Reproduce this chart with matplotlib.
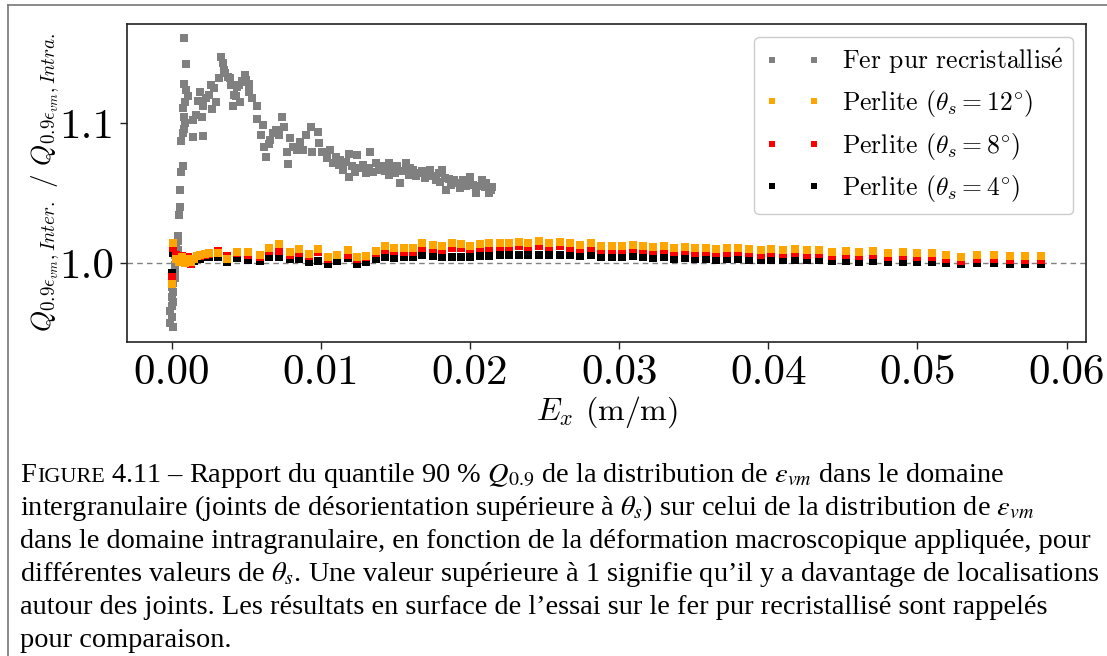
import matplotlib
matplotlib.use("Agg")
import matplotlib.pyplot as plt
from matplotlib.lines import Line2D

# ---------------- data ----------------
fer_x = [0.0001, -0.0001, 0.0000, -0.0001, 0.0000, 0.0001, 0.0000, 0.0001, 0.0000, 0.0001,
         0.0002, 0.0001, 0.0002, 0.0002, 0.0003, 0.0002, 0.0004, 0.0003, 0.0004, 0.0004,
         0.0005, 0.00058, 0.00054, 0.0006, 0.00076, 0.00065, 0.00076, 0.0008,
         0.00082, 0.00094, 0.00082, 0.00098, 0.0011, 0.00087, 0.00076, 0.0008, 0.0009,
         0.0014, 0.0016, 0.0019, 0.00176, 0.0021, 0.0023, 0.0020, 0.0014, 0.0021, 0.00266,
         0.0028, 0.0030, 0.0025, 0.0027, 0.00333, 0.00344, 0.0036, 0.0032, 0.0039, 0.0040,
         0.0042, 0.0041, 0.0044, 0.0049, 0.0048, 0.0052, 0.0046, 0.0052, 0.0054, 0.0057,
         0.0047, 0.0050, 0.0045, 0.0038, 0.0035, 0.0043,
         0.0057, 0.0061, 0.0060, 0.0066, 0.0062, 0.0063, 0.0074, 0.0075, 0.0070, 0.0072,
         0.0079, 0.0077, 0.0078, 0.0084, 0.0068, 0.0065, 0.0081, 0.0086,
         0.00936, 0.0098, 0.0090, 0.0088, 0.0094, 0.0099, 0.0101, 0.0106, 0.0104, 0.0108,
         0.0113, 0.0119, 0.0124, 0.0133, 0.0115, 0.0119, 0.0126, 0.0130, 0.0137, 0.0139,
         0.0146, 0.0146, 0.0153, 0.0157, 0.0162, 0.0166, 0.0173, 0.0181, 0.0177, 0.0184,
         0.0189, 0.0193, 0.0200, 0.0204, 0.0208, 0.0213, 0.0215,
         0.0110, 0.0112, 0.0117, 0.0121, 0.0123, 0.0128, 0.0132, 0.0135, 0.0141, 0.0143,
         0.0148, 0.0150, 0.0151, 0.0155, 0.0159, 0.0160, 0.0164, 0.0168, 0.0170, 0.0171,
         0.0175, 0.0179, 0.0180, 0.0183, 0.0186, 0.0187, 0.0191, 0.0195, 0.0197, 0.0199,
         0.0202, 0.0206, 0.0210, 0.0211, 0.0214]
fer_y = [0.9545, 0.9575, 0.9615, 0.9655, 0.9690, 0.9725, 0.9760, 0.9795, 0.9830, 0.9860,
         0.9890, 0.9920, 0.9950, 0.9985, 1.0020, 1.0055, 1.0090, 1.0125, 1.0160, 1.0195,
         1.0340, 1.0400, 1.0520, 1.0650, 1.0690, 1.0870, 1.0930, 1.0960,
         1.1605, 1.1420, 1.1280, 1.1236, 1.1190, 1.1150, 1.1110, 1.1040, 1.1000,
         1.1020, 1.1060, 1.1220, 1.1160, 1.1120, 1.1180, 1.1040, 1.0900, 1.0910, 1.1270,
         1.1250, 1.1150, 1.1200, 1.1100, 1.1470, 1.1426, 1.1360, 1.1320, 1.1320, 1.1270,
         1.1200, 1.1120, 1.1260, 1.1340, 1.1295, 1.1280, 1.1150, 1.1220, 1.1180, 1.1120,
         1.1300, 1.1310, 1.1270, 1.1330, 1.1380, 1.1190,
         1.1030, 1.0986, 1.0914, 1.0880, 1.0830, 1.0760, 1.1045, 1.0970, 1.0950, 1.0914,
         1.0890, 1.0795, 1.0710, 1.0807, 1.0930, 1.0850, 1.0830, 1.0867,
         1.0974, 1.0938, 1.0914, 1.0807, 1.0795, 1.0855, 1.0795, 1.0807, 1.0748, 1.0712,
         1.0736, 1.0780, 1.0770, 1.0795, 1.0664, 1.0617, 1.0676, 1.0640, 1.0712, 1.0664,
         1.0712, 1.0628, 1.0570, 1.0712, 1.0664, 1.0640, 1.0664, 1.0664, 1.0593, 1.0520,
         1.0593, 1.0533, 1.0617, 1.0498, 1.0593, 1.0498, 1.0545,
         1.0760, 1.0700, 1.0720, 1.0690, 1.0650, 1.0700, 1.0680, 1.0650, 1.0690, 1.0660,
         1.0680, 1.0640, 1.0690, 1.0660, 1.0630, 1.0680, 1.0620, 1.0660, 1.0610, 1.0640,
         1.0620, 1.0640, 1.0580, 1.0610, 1.0600, 1.0560, 1.0570, 1.0590, 1.0550, 1.0580,
         1.0560, 1.0550, 1.0540, 1.0570, 1.0520]

perl_x = [0.0000, 0.0001, 0.0003, 0.0005, 0.0007, 0.0009, 0.0011, 0.0013, 0.0015, 0.0017,
          0.0019, 0.0022, 0.0025, 0.0031, 0.0037, 0.0044, 0.0051, 0.0059, 0.0065, 0.0072,
          0.0079, 0.0085, 0.0092, 0.0098, 0.0105, 0.0111, 0.0118, 0.0124, 0.0130, 0.0137,
          0.0143, 0.0149, 0.0156, 0.0162, 0.0168, 0.0175, 0.0181, 0.0188, 0.0194, 0.0200,
          0.0207, 0.0213, 0.0220, 0.0226, 0.0233, 0.0239, 0.0246, 0.0253, 0.0260, 0.0267,
          0.0274, 0.0281, 0.0288, 0.0295, 0.0302, 0.0309, 0.0316, 0.0323, 0.0330, 0.0337,
          0.0344, 0.0351, 0.0358, 0.0365, 0.0372, 0.0380, 0.0387, 0.0395, 0.0402, 0.0410,
          0.0418, 0.0426, 0.0434, 0.0443, 0.0452, 0.0461, 0.0470, 0.0480, 0.0490, 0.0500,
          0.0510, 0.0519, 0.0529, 0.0540, 0.0551, 0.0562, 0.0572, 0.0583]
perl12_y = [0.9848, 1.0145, 1.0030, 1.0005, 1.0040, 1.0000, 1.0030, 1.0010, 1.0030, 1.0050,
            1.0055, 1.0065, 1.0070, 1.0069, 1.0026, 1.0081, 1.0081, 1.0057, 1.0105, 1.0136,
            1.0081, 1.0098, 1.0064, 1.0098, 1.0045, 1.0060, 1.0090, 1.0045, 1.0050, 1.0085,
            1.0120, 1.0110, 1.0105, 1.0105, 1.0145, 1.0130, 1.0125, 1.0140, 1.0135, 1.0125,
            1.0135, 1.0140, 1.0140, 1.0145, 1.0150, 1.0140, 1.0155, 1.0145, 1.0150, 1.0140,
            1.0130, 1.0140, 1.0125, 1.0120, 1.0125, 1.0130, 1.0120, 1.0115, 1.0125, 1.0110,
            1.0115, 1.0105, 1.0110, 1.0100, 1.0105, 1.0110, 1.0100, 1.0090, 1.0100, 1.0095,
            1.0100, 1.0090, 1.0095, 1.0080, 1.0085, 1.0080, 1.0085, 1.0075, 1.0080, 1.0075,
            1.0070, 1.0060, 1.0040, 1.0055, 1.0060, 1.0050, 1.0050, 1.0050]
perl8_y = [0.9898, 1.0105, 1.0060, 1.0020, 1.0050, 1.0010, 1.0040, 0.9990, 1.0030, 1.0050,
           1.0050, 1.0060, 1.0065, 1.0087, 1.0050, 1.0069, 1.0060, 1.0045, 1.0085, 1.0088,
           1.0060, 1.0075, 1.0050, 1.0080, 1.0030, 1.0055, 1.0060, 1.0030, 1.0040, 1.0070,
           1.0095, 1.0085, 1.0080, 1.0080, 1.0110, 1.0100, 1.0095, 1.0110, 1.0105, 1.0100,
           1.0110, 1.0110, 1.0115, 1.0115, 1.0120, 1.0115, 1.0120, 1.0115, 1.0120, 1.0110,
           1.0100, 1.0110, 1.0095, 1.0090, 1.0095, 1.0100, 1.0090, 1.0085, 1.0095, 1.0080,
           1.0085, 1.0075, 1.0080, 1.0070, 1.0075, 1.0080, 1.0070, 1.0060, 1.0070, 1.0065,
           1.0070, 1.0060, 1.0065, 1.0050, 1.0055, 1.0050, 1.0055, 1.0045, 1.0050, 1.0045,
           1.0040, 1.0030, 1.0015, 1.0030, 1.0030, 1.0025, 1.0025, 1.0025]
perl4_y = [0.9926, 1.0069, 1.0050, 1.0010, 1.0030, 1.0000, 1.0010, 1.0000, 1.0015, 1.0030,
           1.0030, 1.0040, 1.0045, 1.0040, 1.0010, 1.0038, 1.0021, 1.0014, 1.0045, 1.0045,
           1.0026, 1.0026, 1.0010, 1.0017, 0.9990, 1.0017, 1.0033, 0.9995, 1.0005, 1.0026,
           1.0045, 1.0035, 1.0040, 1.0040, 1.0057, 1.0050, 1.0045, 1.0045, 1.0040, 1.0040,
           1.0050, 1.0050, 1.0060, 1.0060, 1.0055, 1.0060, 1.0060, 1.0055, 1.0060, 1.0055,
           1.0050, 1.0055, 1.0045, 1.0040, 1.0045, 1.0050, 1.0040, 1.0035, 1.0045, 1.0030,
           1.0035, 1.0030, 1.0030, 1.0025, 1.0030, 1.0030, 1.0025, 1.0020, 1.0025, 1.0020,
           1.0025, 1.0020, 1.0020, 1.0015, 1.0015, 1.0010, 1.0015, 1.0010, 1.0010, 1.0010,
           1.0005, 1.0000, 0.9995, 1.0000, 1.0000, 0.9995, 0.9995, 0.9990]

labels = [r"Fer pur recristallis$\mathrm{\acute{e}}$", r"Perlite ($\theta_s = 12^{\circ}$)",
          r"Perlite ($\theta_s = 8^{\circ}$)", r"Perlite ($\theta_s = 4^{\circ}$)"]
colors = ["#808080", "#FFA500", "#FF0000", "#000000"]
xticks = [0.00, 0.01, 0.02, 0.03, 0.04, 0.05, 0.06]
yticks = [1.0, 1.1]

caption_lines = [
    "intergranulaire (joints de désorientation supérieure à $\\theta_s$) sur celui de la distribution de $\\varepsilon_{vm}$",
    "dans le domaine intragranulaire, en fonction de la déformation macroscopique appliquée, pour",
    "différentes valeurs de $\\theta_s$. Une valeur supérieure à 1 signifie qu\u2019il y a davantage de localisations",
    "autour des joints. Les résultats en surface de l\u2019essai sur le fer pur recristallisé sont rappelés",
    "pour comparaison.",
]
caption_first = ["F", "IGURE", "4.11 \u2013 Rapport du quantile 90 % $Q_{0.9}$ de la distribution de $\\varepsilon_{vm}$ dans le domaine"]

# ---------------- style ----------------
plt.rcParams["font.family"] = ["cmr10", "DejaVu Serif"]
plt.rcParams["mathtext.fontset"] = "cm"
plt.rcParams["axes.formatter.use_mathtext"] = True

W, H = 1107, 656
fig = plt.figure(figsize=(W / 100, H / 100), dpi=100)
ax = fig.add_axes([127 / W, 1 - 342 / H, (1086 - 127) / W, (342 - 24) / H])

ax.axhline(1.0, color="#808080", lw=1.0, ls=(0, (4, 3)), zorder=1)
ms = 5.8
h_fer, = ax.plot(fer_x, fer_y, "s", color=colors[0], ms=ms, mew=0, ls="none", zorder=2)
h4, = ax.plot(perl_x, perl4_y, "s", color=colors[3], ms=ms, mew=0, ls="none", zorder=3)
h8, = ax.plot(perl_x, perl8_y, "s", color=colors[2], ms=ms, mew=0, ls="none", zorder=4)
h12, = ax.plot(perl_x, perl12_y, "s", color=colors[1], ms=ms, mew=0, ls="none", zorder=5)

ax.set_xlim(-0.003, 0.0613)
ax.set_ylim(0.9436, 1.1707)
ax.set_xticks(xticks)
ax.set_xticklabels([f"{v:.2f}" for v in xticks])
ax.set_yticks(yticks)
ax.set_yticklabels([f"{v:.1f}" for v in yticks])
ax.tick_params(labelsize=31, length=5, width=1, color="#222222", pad=4)
for s in ax.spines.values():
    s.set_linewidth(1.2)
    s.set_color("#222222")

ax.set_xlabel(r"$E_x$ (m/m)", fontsize=23, labelpad=2)
ax.set_ylabel(r"$Q_{0.9\epsilon_{vm},Inter.}$ / $Q_{0.9\epsilon_{vm},Intra.}$", fontsize=19.5)
ax.yaxis.set_label_coords(-0.068, 0.5)

leg = ax.legend([h_fer, h12, h8, h4], labels, loc="upper right", numpoints=2,
                markerscale=0.75, fontsize=18.5, frameon=True, fancybox=True,
                edgecolor="#cccccc", framealpha=1, borderpad=0.4, labelspacing=0.45,
                handlelength=2.2, handletextpad=0.8, borderaxespad=0.5)

# page frame
fig.add_artist(Line2D([8 / W, 8 / W], [0, 1 - 5 / H], color="#777777", lw=1.2))
fig.add_artist(Line2D([8 / W, 1], [1 - 5 / H, 1 - 5 / H], color="#777777", lw=1.2))

# caption
cap_kw = dict(family=["Liberation Serif", "DejaVu Serif"], math_fontfamily="stix", va="baseline", ha="left")
cap_size = 20.4
renderer = fig.canvas.get_renderer()
x = 20
y0 = 482
t = fig.text(x / W, 1 - y0 / H, caption_first[0], fontsize=cap_size, **cap_kw)
x = t.get_window_extent(renderer).x1 + 1
t = fig.text(x / W, 1 - y0 / H, caption_first[1], fontsize=cap_size * 0.78, **cap_kw)
x = t.get_window_extent(renderer).x1 + 6
fig.text(x / W, 1 - y0 / H, caption_first[2], fontsize=cap_size, **cap_kw)
for i, line in enumerate(caption_lines):
    fig.text(20 / W, 1 - (y0 + 33 * (i + 1)) / H, line, fontsize=cap_size, **cap_kw)

fig.savefig("out.png", dpi=100)
